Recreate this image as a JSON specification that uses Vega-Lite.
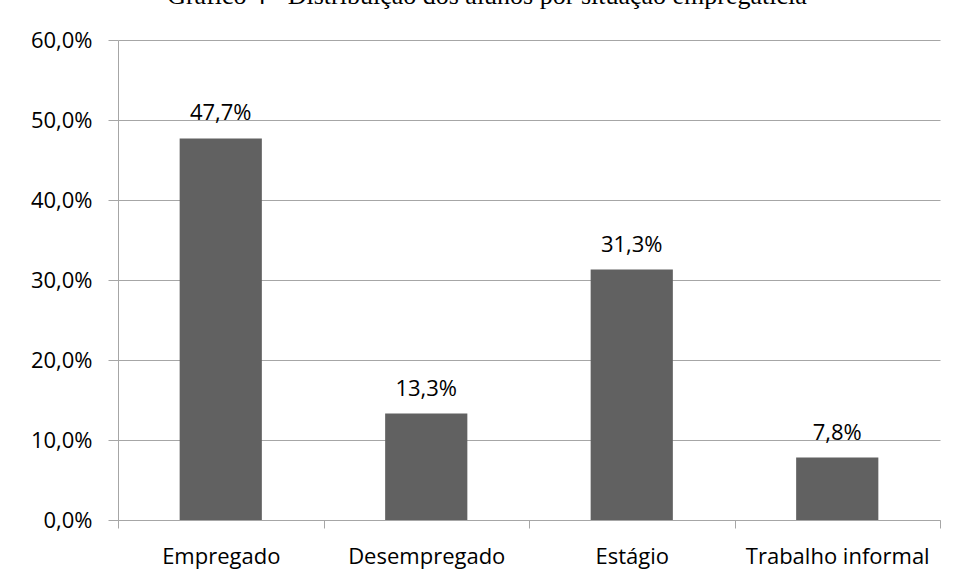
{
  "$schema": "https://vega.github.io/schema/vega-lite/v6.json",
  "autosize": "none",
  "width": 822,
  "height": 480,
  "padding": {"left": 118, "top": 40, "right": 19, "bottom": 59},
  "background": "white",
  "title": {
    "text": "Gráfico 4 - Distribuição dos alunos por situação empregatícia",
    "font": "Liberation Serif",
    "fontSize": 26,
    "fontWeight": "normal",
    "color": "#000000",
    "anchor": "middle",
    "baseline": "alphabetic",
    "offset": -1,
    "dx": -42
  },
  "data": {
    "values": [
      {"situacao": "Empregado", "pct": 0.477},
      {"situacao": "Desempregado", "pct": 0.133},
      {"situacao": "Estágio", "pct": 0.313},
      {"situacao": "Trabalho informal", "pct": 0.078}
    ]
  },
  "encoding": {
    "x": {
      "field": "situacao",
      "type": "nominal",
      "sort": null,
      "scale": {"paddingInner": 0, "paddingOuter": 0},
      "axis": {
        "title": null,
        "labelAngle": 0,
        "labelLimit": 0,
        "tickBand": "extent",
        "tickSize": 8,
        "tickColor": "#a6a6a6",
        "domainColor": "#a6a6a6",
        "labelFont": "Open Sans",
        "labelFontSize": 22,
        "labelColor": "#000000",
        "labelBaseline": "alphabetic",
        "labelPadding": 35,
        "grid": false
      }
    },
    "y": {
      "field": "pct",
      "type": "quantitative",
      "scale": {"domain": [0, 0.6], "nice": false},
      "axis": {
        "title": null,
        "values": [0, 0.1, 0.2, 0.3, 0.4, 0.5, 0.6],
        "format": ".1%",
        "tickSize": 10,
        "tickColor": "#a6a6a6",
        "domainColor": "#a6a6a6",
        "gridColor": "#a6a6a6",
        "grid": true,
        "labelFont": "Open Sans",
        "labelFontSize": 22,
        "labelColor": "#000000",
        "labelPadding": 16
      }
    }
  },
  "layer": [
    {
      "mark": {"type": "bar", "color": "#616161", "width": {"band": 0.4}}
    },
    {
      "mark": {"type": "text", "font": "Open Sans", "fontSize": 22, "color": "#000000", "baseline": "alphabetic", "dy": -18},
      "encoding": {
        "text": {"field": "pct", "type": "quantitative", "format": ".1%"}
      }
    }
  ],
  "config": {
    "view": {"stroke": null},
    "axis": {"gridWidth": 1, "domainWidth": 1, "tickWidth": 1},
    "locale": {
      "number": {"decimal": ",", "thousands": ".", "grouping": [3], "currency": ["", ""]}
    }
  }
}
